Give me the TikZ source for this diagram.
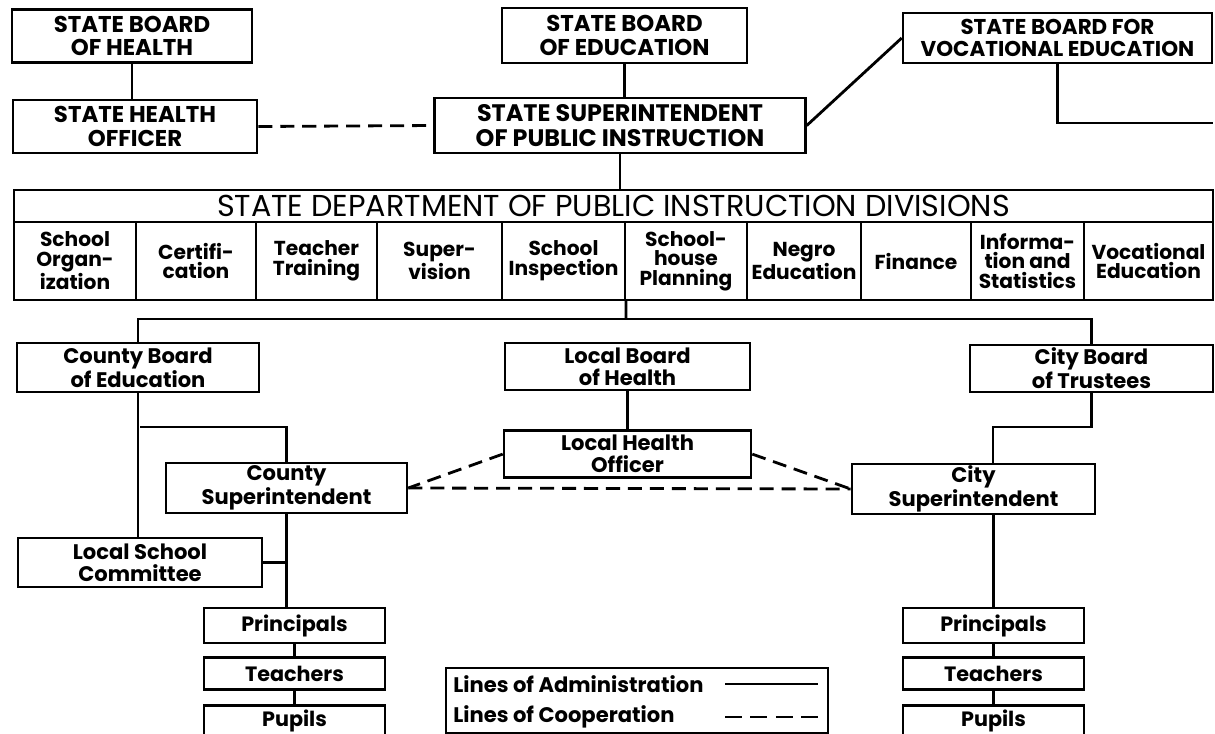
\documentclass[tikz,border=0pt]{standalone}
\usepackage{fontspec}
\setmainfont{Poppins}
\usepackage{tikz}
\usetikzlibrary{positioning}
\tikzstyle{board}=[rectangle, draw=black, line width=1.5pt, align=center, inner sep=0pt,
        font=\fontsize{13}{13.5}\selectfont\bfseries]
\tikzstyle{office}=[board, font=\fontsize{12}{12.5}\selectfont\bfseries]
\tikzstyle{school}=[board, minimum width=3.62cm, minimum height=0.64cm,
        font=\fontsize{11.8}{12}\selectfont\bfseries]
\tikzstyle{division}=[rectangle, draw=black, line width=1.2pt, align=center, inner sep=0pt,
        minimum height=1.56cm, font=\fontsize{11.5}{11.2}\selectfont\bfseries]
\tikzstyle{admin}=[-, line width=1.6pt]
\tikzstyle{coop}=[-, line width=1.6pt, dash pattern=on 8pt off 4.5pt]
\tikzstyle{legendtext}=[anchor=west, inner sep=0pt, font=\fontsize{12}{12}\selectfont\bfseries]

\begin{document}
\begin{tikzpicture}[x=0.02cm, y=-0.02cm]
    \useasboundingbox (0,0) rectangle (1215,734);
    % state level
    \node (SBH) [board, minimum width=4.8cm, minimum height=1.06cm] at (132,36)
        {STATE BOARD\\OF HEALTH};
    \node (SHO) [board, minimum width=4.88cm, minimum height=1.06cm] at (135,126.5)
        {STATE HEALTH\\OFFICER};
    \node (SBE) [board, minimum width=4.9cm, minimum height=1.1cm] at (624.5,35.5)
        {STATE BOARD\\OF EDUCATION};
    \node (SS) [board, minimum width=7.42cm, minimum height=1.1cm,
        font=\fontsize{13.6}{13.8}\selectfont\bfseries] at (620,125.5)
        {STATE SUPERINTENDENT\\OF PUBLIC INSTRUCTION};
    \node (SBVE) [board, minimum width=6.18cm, minimum height=1.0cm,
        font=\fontsize{12.2}{12.8}\selectfont\bfseries] at (1057.5,38)
        {STATE BOARD FOR\\VOCATIONAL EDUCATION};
    \coordinate (vocout) at (1213,123);

    % department and its divisions
    \node (dept) [rectangle, draw=black, line width=1.2pt, inner sep=0pt, minimum width=23.98cm,
        minimum height=0.64cm, font=\fontsize{17.2}{17}\selectfont] at (613.5,206)
        {STATE DEPARTMENT OF PUBLIC INSTRUCTION DIVISIONS};
    \foreach \l/\r/\txt [count=\i] in {14/136/{School\\Organ-\\ization}, 136/256/{Certifi-\\cation},
        256/377/{Teacher\\Training}, 377/502/{Super-\\vision}, 502/625/{School\\Inspection},
        625/747/{School-\\house\\Planning}, 747/861/{Negro\\Education}, 861/971/{Finance},
        971/1084/{Informa-\\tion and\\Statistics}, 1084/1213/{Vocational\\Education}}
    {
        \pgfmathsetmacro{\w}{(\r-\l)*0.02}
        \node (div\i) [division, minimum width=\w cm] at ({(\l+\r)/2},261) {\txt};
    }
    \coordinate (fork) at (626,319);

    % local level
    \node (CBE) [office, minimum width=4.84cm, minimum height=0.98cm] at (138,367.5)
        {County Board\\of Education};
    \node (LBH) [office, minimum width=4.9cm, minimum height=0.94cm] at (627.5,366.5)
        {Local Board\\of Health};
    \node (CBT) [office, minimum width=4.86cm, minimum height=0.94cm] at (1091.5,368.5)
        {City Board\\of Trustees};
    \node (LHO) [office, minimum width=4.94cm, minimum height=0.94cm, below=0.76cm of LBH]
        {Local Health\\Officer};
    \node (CS) [office, minimum width=4.82cm, minimum height=1.0cm] at (286.5,488)
        {County\\Superintendent};
    \node (CitySup) [office, minimum width=4.86cm, minimum height=1.0cm] at (973.5,489)
        {City\\Superintendent};
    \node (LSC) [office, minimum width=4.88cm, minimum height=0.98cm] at (140,562.5)
        {Local School\\Committee};
    \coordinate (cbranch) at (140,427);
    \coordinate (tbranch) at (993,427);

    % schools
    \node (PrinL) [school, minimum height=0.7cm] at (294.5,625.5) {Principals};
    \node (TeachL) [school, below=0.24cm of PrinL] {Teachers};
    \node (PupilL) [school, below=0.26cm of TeachL] {Pupils};
    \node (PrinR) [school, minimum height=0.7cm] at (993.5,625.5) {Principals};
    \node (TeachR) [school, below=0.24cm of PrinR] {Teachers};
    \node (PupilR) [school, below=0.26cm of TeachR] {Pupils};

    % legend
    \node (legend) [rectangle, draw=black, line width=1.5pt, minimum width=7.64cm,
        minimum height=1.3cm] at (637,700.5) {};
    \node (admtxt) [legendtext] at (453,684) {Lines of Administration};
    \node (cooptxt) [legendtext] at (453,717) {Lines of Cooperation};
    \coordinate (adma) at (725,684);
    \coordinate (admb) at (818,684);
    \coordinate (coopa) at (725,717);
    \coordinate (coopb) at (818,717);

    % lines of administration
    \draw[admin] (SBH.south) -- (SHO.north -| SBH.south);
    \draw[admin] (SBE.south) -- (SS.north -| SBE.south);
    \draw[admin] (SS.south) -- (dept.north -| SS.south);
    \draw[admin] (SS.east) -- (SBVE.west);
    \draw[admin] (SBVE.south) |- (vocout);
    \draw[admin] (div5.south east) -- (fork);
    \draw[admin] (CBE.north) |- (fork) -| (CBT.north);
    \draw[admin] (CBE.south) -- (LSC.north -| CBE.south);
    \draw[admin] (cbranch) -| (CS.north);
    \draw[admin] (LBH.south) -- (LHO.north);
    \draw[admin] (CBT.south) |- (tbranch) -- (tbranch |- CitySup.north);
    \draw[admin] (CS.south) -- (CS.south |- PrinL.north);
    \draw[admin] (LSC.east) -- (LSC.east -| CS.south);
    \draw[admin] (PrinL.south) -- (TeachL.north);
    \draw[admin] (TeachL.south) -- (PupilL.north);
    \draw[admin] (CitySup.south -| PrinR.north) -- (PrinR.north);
    \draw[admin] (PrinR.south) -- (TeachR.north);
    \draw[admin] (TeachR.south) -- (PupilR.north);
    \draw[admin] (adma) -- (admb);

    % lines of cooperation
    \draw[coop] (SHO.east) -- (SS.west);
    \draw[coop] (LHO.west) -- (CS.east);
    \draw[coop] (CS.east) -- (CitySup.west);
    \draw[coop] (LHO.east) -- (CitySup.west);
    \draw[coop, dash pattern=on 9.5pt off 5pt] (coopa) -- (coopb);
\end{tikzpicture}
\end{document}
